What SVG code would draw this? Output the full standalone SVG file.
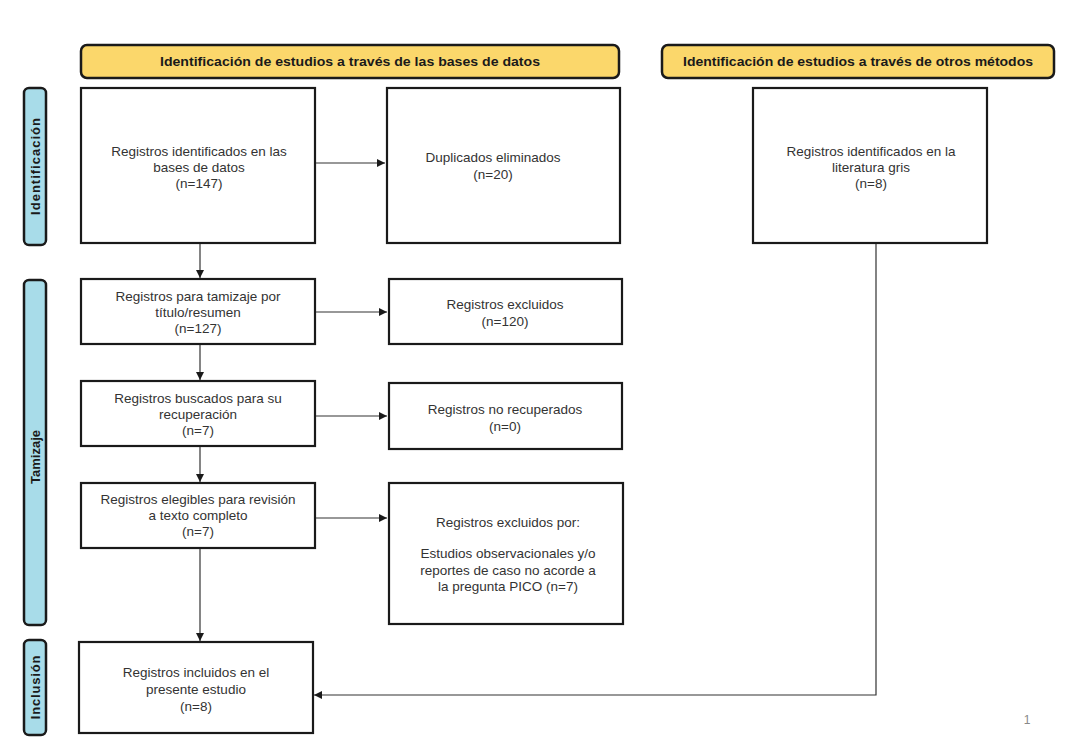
<svg xmlns="http://www.w3.org/2000/svg" width="1070" height="745" viewBox="0 0 1070 745">
<style>
.hdr{fill:#FBD76B;stroke:#1a1a1a;stroke-width:2.5}
.side{fill:#A8DCE9;stroke:#1a1a1a;stroke-width:2.5}
.box{fill:#fff;stroke:#1a1a1a;stroke-width:2.2}
.t{font-family:"Liberation Sans",Arial,sans-serif;font-size:13.5px;fill:#333;text-anchor:middle}
.h{font-family:"Liberation Sans",Arial,sans-serif;font-size:13px;font-weight:bold;fill:#1a1a1a;text-anchor:middle}
.s{font-family:"Liberation Sans",Arial,sans-serif;font-size:13px;font-weight:bold;fill:#1a1a1a;text-anchor:middle}
.c{fill:none;stroke:#333;stroke-width:1.2}
</style>
<defs>
<marker id="ar" viewBox="0 0 10 10" refX="10" refY="5" markerWidth="8" markerHeight="8" markerUnits="userSpaceOnUse" orient="auto">
<path d="M0,0 L10,5 L0,10 z" fill="#1a1a1a"/>
</marker>
</defs>
<rect width="1070" height="745" fill="#fff"/>
<g id="header-db"><rect class="hdr" x="81" y="45" width="538" height="33" rx="6"/><text class="h" x="350" y="66" textLength="380" lengthAdjust="spacingAndGlyphs">Identificación de estudios a través de las bases de datos</text></g>
<g id="header-other"><rect class="hdr" x="662" y="45" width="392" height="33" rx="6"/><text class="h" x="858" y="66" textLength="350" lengthAdjust="spacingAndGlyphs">Identificación de estudios a través de otros métodos</text></g>
<g id="side-identificacion"><rect class="side" x="24" y="88" width="22" height="157" rx="5"/><text class="s" transform="translate(40,166) rotate(-90)" style="letter-spacing:1px">Identificación</text></g>
<g id="side-tamizaje"><rect class="side" x="24" y="280" width="22" height="345" rx="5"/><text class="s" transform="translate(40,457) rotate(-90)">Tamizaje</text></g>
<g id="side-inclusion"><rect class="side" x="24" y="640" width="22" height="95" rx="5"/><text class="s" transform="translate(40,687) rotate(-90)" style="letter-spacing:0.8px">Inclusión</text></g>
<g id="n-identificados"><rect class="box" x="81" y="88" width="234" height="155"/><text class="t" x="199" y="156">Registros identificados en las</text><text class="t" x="199" y="172">bases de datos</text><text class="t" x="199" y="188">(n=147)</text></g>
<g id="n-duplicados"><rect class="box" x="387" y="88" width="233" height="155"/><text class="t" x="493" y="162">Duplicados eliminados</text><text class="t" x="493" y="179">(n=20)</text></g>
<g id="n-gris"><rect class="box" x="753" y="88" width="234" height="155"/><text class="t" x="871" y="156">Registros identificados en la</text><text class="t" x="871" y="172">literatura gris</text><text class="t" x="871" y="188">(n=8)</text></g>
<g id="n-tamizaje"><rect class="box" x="81" y="279" width="234" height="65"/><text class="t" x="198" y="301">Registros para tamizaje por</text><text class="t" x="198" y="317">título/resumen</text><text class="t" x="198" y="333">(n=127)</text></g>
<g id="n-excluidos"><rect class="box" x="389" y="279" width="233" height="65"/><text class="t" x="505" y="309">Registros excluidos</text><text class="t" x="505" y="326">(n=120)</text></g>
<g id="n-buscados"><rect class="box" x="81" y="381" width="234" height="65"/><text class="t" x="198" y="403">Registros buscados para su</text><text class="t" x="198" y="419">recuperación</text><text class="t" x="198" y="435">(n=7)</text></g>
<g id="n-norecuperados"><rect class="box" x="389" y="383" width="233" height="66"/><text class="t" x="505" y="414">Registros no recuperados</text><text class="t" x="505" y="431">(n=0)</text></g>
<g id="n-elegibles"><rect class="box" x="81" y="483" width="234" height="65"/><text class="t" x="198" y="504">Registros elegibles para revisión</text><text class="t" x="198" y="520">a texto completo</text><text class="t" x="198" y="536">(n=7)</text></g>
<g id="n-excluidospor"><rect class="box" x="389" y="483" width="234" height="141"/><text class="t" x="508" y="527">Registros excluidos por:</text><text class="t" x="508" y="558">Estudios observacionales y/o</text><text class="t" x="508" y="575">reportes de caso no acorde a</text><text class="t" x="508" y="591">la pregunta PICO (n=7)</text></g>
<g id="n-incluidos"><rect class="box" x="79" y="642" width="234" height="91"/><text class="t" x="196" y="677">Registros incluidos en el</text><text class="t" x="196" y="694">presente estudio</text><text class="t" x="196" y="711">(n=8)</text></g>
<g id="connectors">
<line class="c" x1="316" y1="163" x2="385" y2="163" marker-end="url(#ar)"/>
<line class="c" x1="200" y1="244" x2="200" y2="278" marker-end="url(#ar)"/>
<line class="c" x1="316" y1="312" x2="387" y2="312" marker-end="url(#ar)"/>
<line class="c" x1="200" y1="345" x2="200" y2="380" marker-end="url(#ar)"/>
<line class="c" x1="316" y1="416" x2="387" y2="416" marker-end="url(#ar)"/>
<line class="c" x1="200" y1="447" x2="200" y2="482" marker-end="url(#ar)"/>
<line class="c" x1="316" y1="518" x2="387" y2="518" marker-end="url(#ar)"/>
<line class="c" x1="200" y1="549" x2="200" y2="641" marker-end="url(#ar)"/>
<polyline class="c" points="876,244 876,695 314,695" marker-end="url(#ar)"/>
</g>
<text x="1027" y="724" style="font-family:'Liberation Sans',Arial,sans-serif;font-size:12px;fill:#888;text-anchor:middle">1</text>
</svg>
